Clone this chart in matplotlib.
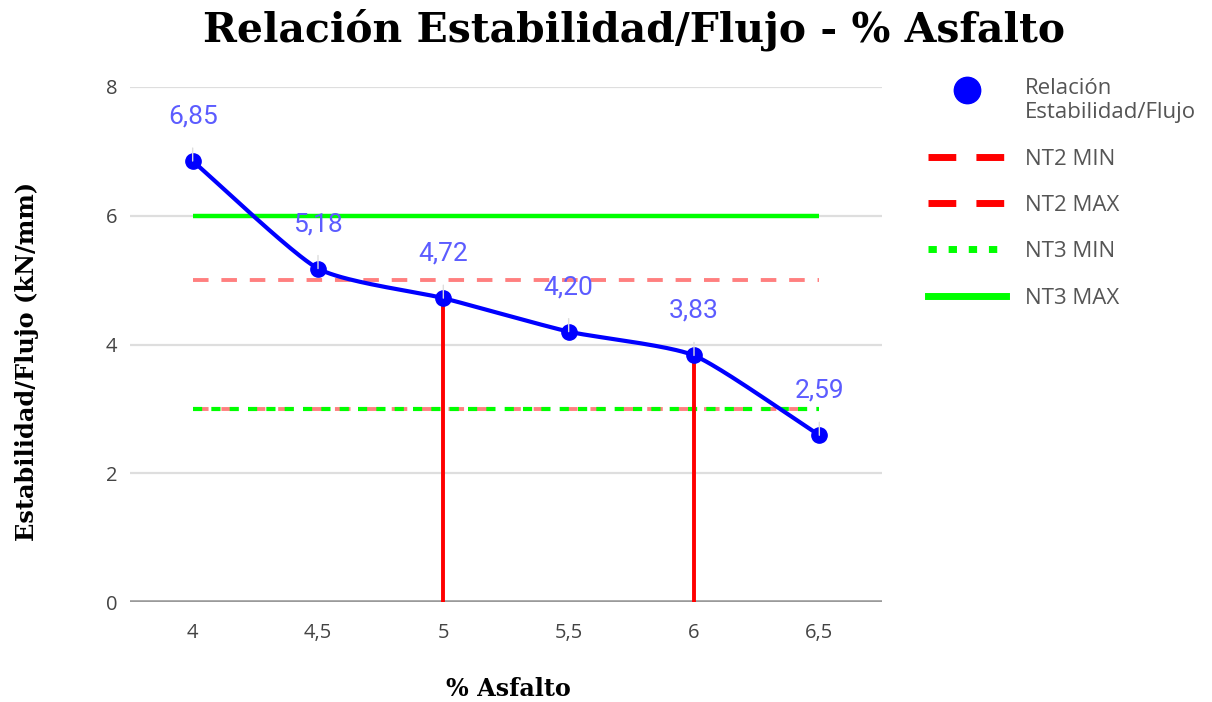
import numpy as np
import matplotlib
matplotlib.use("Agg")
import matplotlib.pyplot as plt
from matplotlib.lines import Line2D
from matplotlib.legend_handler import HandlerLine2D

# Datos del ensayo Marshall
asfalto = [4.0, 4.5, 5.0, 5.5, 6.0, 6.5]
relacion = [6.85, 5.18, 4.72, 4.20, 3.83, 2.59]
etiquetas = ["6,85", "5,18", "4,72", "4,20", "3,83", "2,59"]
x_ticks = [4.0, 4.5, 5.0, 5.5, 6.0, 6.5]
x_tick_labels = ["4", "4,5", "5", "5,5", "6", "6,5"]
y_ticks = [0, 2, 4, 6, 8]

# Límites de especificación
nt2_min = 3
nt2_max = 5
nt3_min = 3
nt3_max = 6

# Contenidos de asfalto marcados con línea vertical
marcas = [5.0, 6.0]

BLUE = "#0000ff"
LABEL_BLUE = "#5c5cff"
RED = "#ff0000"
GREEN = "#00ff00"
TICK_GRAY = "#444444"


def cardinal_spline(x, y, tension=0.5, n=40):
    """Curva suave (spline cardinal) que pasa por todos los puntos."""
    x = np.asarray(x, float)
    y = np.asarray(y, float)
    px = np.concatenate([[2 * x[0] - x[1]], x, [2 * x[-1] - x[-2]]])
    py = np.concatenate([[2 * y[0] - y[1]], y, [2 * y[-1] - y[-2]]])
    P = np.column_stack([px, py])
    t = np.linspace(0, 1, n)
    h00 = 2 * t**3 - 3 * t**2 + 1
    h10 = t**3 - 2 * t**2 + t
    h01 = -2 * t**3 + 3 * t**2
    h11 = t**3 - t**2
    out = []
    for i in range(1, len(P) - 2):
        m1 = tension * (P[i + 1] - P[i - 1])
        m2 = tension * (P[i + 2] - P[i])
        seg = (h00[:, None] * P[i] + h10[:, None] * m1
               + h01[:, None] * P[i + 1] + h11[:, None] * m2)
        out.append(seg)
    out = np.vstack(out)
    return out[:, 0], out[:, 1]


class TopAlignedHandler(HandlerLine2D):
    """Coloca el marcador a la altura de la primera línea del texto."""

    def __init__(self, shift_pts, **kw):
        super().__init__(**kw)
        self.shift_pts = shift_pts

    def create_artists(self, legend, orig_handle, xdescent, ydescent,
                       width, height, fontsize, trans):
        arts = super().create_artists(legend, orig_handle, xdescent, ydescent,
                                      width, height, fontsize, trans)
        for a in arts:
            a.set_ydata(np.asarray(a.get_ydata()) + self.shift_pts)
        return arts


W, H = 1212, 702
fig = plt.figure(figsize=(W / 100, H / 100), dpi=100)
ax = fig.add_axes([130 / W, 1 - 602 / H, (882 - 130) / W, (602 - 87) / H])

ax.set_xlim(3.75, 6.75)
ax.set_ylim(0, 8)

# Cuadrícula horizontal y línea base
for yv in y_ticks[1:]:
    ax.axhline(yv, color="#dedede", lw=1.6, zorder=0)
ax.axhline(0, color="#9a9a9a", lw=2.6, zorder=1)

x0, x1 = asfalto[0], asfalto[-1]
# NT2 (rojo discontinuo, semitransparente)
ax.hlines([nt2_min, nt2_max], x0, x1, colors=RED, alpha=0.5, lw=2.8,
          linestyles=(0, (4, 3.3)), zorder=2)
# NT3 mínimo (verde punteado) y máximo (verde continuo)
ax.hlines(nt3_min, x0, x1, colors=GREEN, lw=3.0, linestyles=(0, (2.2, 2.2)), zorder=3)
ax.hlines(nt3_max, x0, x1, colors=GREEN, lw=3.2, zorder=3)

# Líneas verticales en los contenidos marcados
for xm in marcas:
    ym = relacion[asfalto.index(xm)]
    ax.vlines(xm, 0, ym, colors=RED, lw=2.8, zorder=4)

# Curva suavizada y puntos
cx, cy = cardinal_spline(asfalto, relacion, tension=0.3)
ax.plot(cx, cy, color=BLUE, lw=3.0, zorder=5, solid_capstyle="round")
ax.plot(asfalto, relacion, "o", color=BLUE, ms=11, zorder=6)

# Etiquetas de valor con línea guía
for xv, yv, lab in zip(asfalto, relacion, etiquetas):
    ax.annotate(lab, xy=(xv, yv), xytext=(0, 32), textcoords="offset points",
                ha="center", va="center", color=LABEL_BLUE, fontsize=19,
                family="Roboto",
                arrowprops=dict(arrowstyle="-", color="#dddddd", lw=1.0,
                                shrinkA=12, shrinkB=0),
                zorder=7)

ax.set_xticks(x_ticks)
ax.set_xticklabels(x_tick_labels)
ax.set_yticks(y_ticks)
ax.tick_params(axis="both", length=0, labelsize=14.5, labelcolor=TICK_GRAY)
ax.tick_params(axis="x", pad=15)
ax.tick_params(axis="y", pad=9)
for lab in ax.get_xticklabels() + ax.get_yticklabels():
    lab.set_family("Open Sans")
for sp in ax.spines.values():
    sp.set_visible(False)

fig.text(634 / W, 1 - 30 / H, "Relación Estabilidad/Flujo - % Asfalto",
         ha="center", va="center", fontsize=29.4, fontweight="bold",
         family="DejaVu Serif")
fig.text(508 / W, 1 - 689 / H, "% Asfalto", ha="center", va="center",
         fontsize=17.2, fontweight="bold", family="DejaVu Serif")
fig.text(27 / W, 1 - 361 / H, "Estabilidad/Flujo (kN/mm)", ha="center",
         va="center", rotation=90, fontsize=17.3, fontweight="bold",
         family="DejaVu Serif")

serie = Line2D([], [], marker="o", color=BLUE, ls="none", ms=19)
handles = [
    serie,
    Line2D([], [], color=RED, lw=5, ls=(0, (4, 2.9))),
    Line2D([], [], color=RED, lw=5, ls=(0, (4, 2.9))),
    Line2D([], [], color=GREEN, lw=5, ls=(0, (1.2, 1.7))),
    Line2D([], [], color=GREEN, lw=5),
]
labels = ["Relación\nEstabilidad/Flujo", "NT2 MIN", "NT2 MAX", "NT3 MIN", "NT3 MAX"]
leg = fig.legend(handles, labels, loc="upper left",
                 bbox_to_anchor=(928 / W, 1 - 78 / H), frameon=False,
                 prop={"family": "Open Sans", "size": 16},
                 handlelength=3.5, handletextpad=0.85, labelspacing=1.14,
                 borderaxespad=0, borderpad=0,
                 handler_map={serie: TopAlignedHandler(8.0)})
for t in leg.get_texts():
    t.set_color("#555555")

fig.savefig("out.png", dpi=100)
